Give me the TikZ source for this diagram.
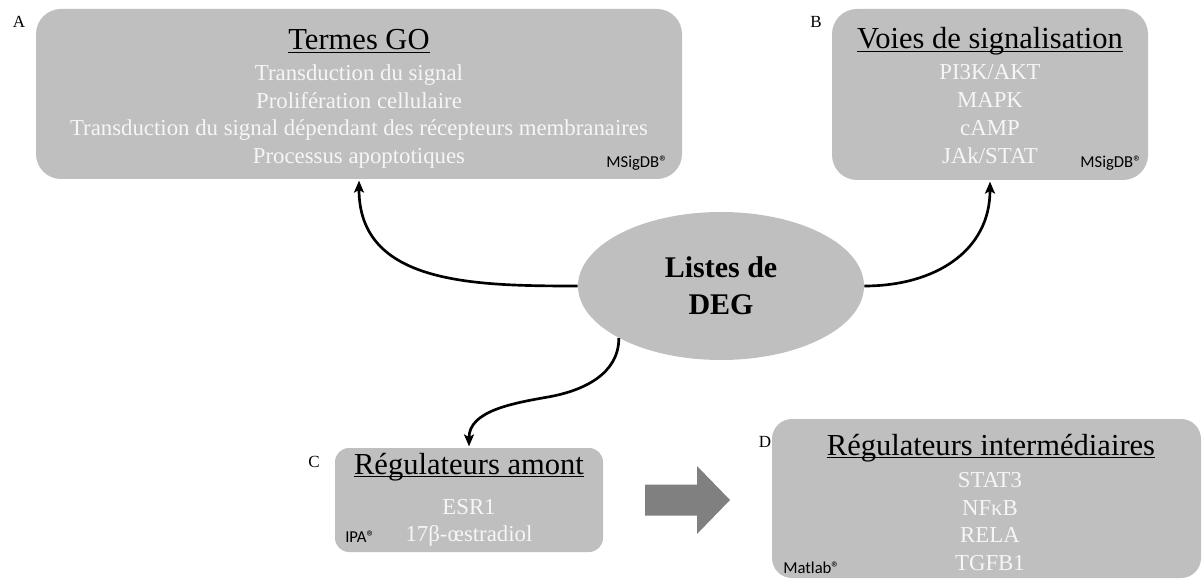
\documentclass[tikz,border=0pt]{standalone}
\usepackage{fontspec}
\setmainfont{Liberation Serif}
\newfontfamily\calibri{Carlito}
\usepackage{tikz}
\usetikzlibrary{arrows.meta,positioning,shapes.geometric}
\usepackage{xcolor}
\definecolor{panelgrey}{RGB}{191,191,191}
\definecolor{arrowgrey}{RGB}{128,128,128}
\definecolor{itemwhite}{RGB}{246,246,246}
\newlength{\headwd}
\newcommand{\headul}[1]{\settowidth{\headwd}{#1}\rlap{\rule[-2.6pt]{\headwd}{0.9pt}}#1}

\begin{document}
\begin{tikzpicture}[x=0.75pt, y=0.75pt,
    panel/.style={rectangle, fill=panelgrey, rounded corners=18.75pt, inner sep=0pt},
    heading/.style={anchor=base, inner sep=0pt, font=\fontsize{22.9}{27}\selectfont},
    items/.style={anchor=north, inner sep=0pt, align=center, text=itemwhite,
        font=\fontsize{17.1}{20.8}\selectfont},
    tool/.style={inner sep=0pt, font=\calibri\fontsize{12.5}{15}\selectfont},
    tag/.style={anchor=base, inner sep=0pt, font=\fontsize{12.75}{15}\selectfont},
    link/.style={-{Stealth[length=9pt,width=7.5pt,inset=2pt]}, line width=2pt, shorten >=1pt}
]
\useasboundingbox (0,0) rectangle (1203,579);

% A: GO terms
\node[panel, minimum width=484.5pt, minimum height=127.5pt] (goterms) at (359,485) {};
\node[heading] (gotitle) at (359,529) {\headul{Termes GO}};
\node[items] (golist) at (359,514.6) {Transduction du signal\\Prolifération cellulaire\\
    Transduction du signal dépendant des récepteurs membranaires\\Processus apoptotiques};
\node[tool, anchor=base east] (gotool) at (668,411) {MSigDB®};
\node[tag] (taga) at (19,551) {A};

% B: pathways
\node[panel, minimum width=237pt, minimum height=128.25pt] (pathways) at (990,484.5) {};
\node[heading] (pwtitle) at (990,530) {\headul{Voies de signalisation}};
\node[items] (pwlist) at (990,514.4) {PI3K/AKT\\MAPK\\cAMP\\JAk/STAT};
\node[tool, anchor=base east] (pwtool) at (1142,411) {MSigDB®};
\node[tag] (tagb) at (816,551) {B};

% DEG lists
\node[ellipse, fill=panelgrey, minimum width=214.5pt, minimum height=111pt, inner sep=0pt,
      align=center, font=\bfseries\fontsize{22.5}{27.75}\selectfont] (deglist) at (721,293) {Listes de\\DEG};

% C: upstream regulators
\node[panel, rounded corners=10.5pt, minimum width=201pt, minimum height=78pt] (upstream) at (469,79) {};
\node[heading] (uptitle) at (469,105) {\headul{Régulateurs amont}};
\node[items] (uplist) at (469,80.2) {ESR1\\17β-œstradiol};
\node[tool, anchor=base west] (uptool) at (345,37) {IPA®};
\node[tag] (tagc) at (314,112) {C};

% D: intermediate regulators
\node[panel, rounded corners=15pt, minimum width=321.75pt, minimum height=119.25pt] (midreg) at (986.5,80.5) {};
\node[heading] (midtitle) at (991,124) {\headul{Régulateurs intermédiaires}};
\node[items] (midlist) at (990,107) {STAT3\\NFκB\\RELA\\TGFB1};
\node[tool, anchor=base west] (midtool) at (783,6) {Matlab®};
\node[tag] (tagd) at (765,132) {D};

% links
\coordinate (bend) at (548,182);
\draw[link] (deglist.west) to[out=180, in=270, looseness=1.1] (goterms.south);
\draw[link] (deglist.east) to[out=0, in=270, looseness=1.1] (pathways.south);
\draw[link] (deglist.207) to[out=270, in=10] (bend) to[out=190, in=90] (upstream.north);

% C to D
\fill[arrowgrey] (645,94.5) -- (697,94.5) -- (697,113) -- (730,79) -- (697,45)
    -- (697,63.5) -- (645,63.5) -- cycle;
\end{tikzpicture}
\end{document}
